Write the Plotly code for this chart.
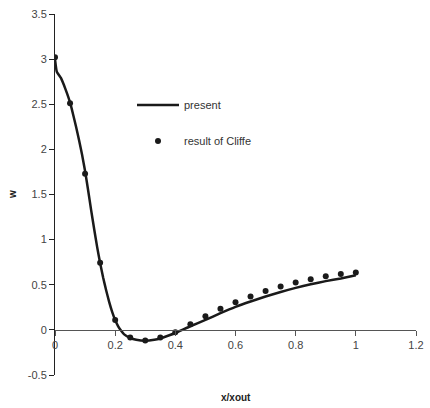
import plotly.graph_objects as go

# Cliffe's reference results
cliffe_x = [0.0, 0.05, 0.1, 0.15, 0.2, 0.25, 0.3, 0.35, 0.4, 0.45, 0.5,
            0.55, 0.6, 0.65, 0.7, 0.75, 0.8, 0.85, 0.9, 0.95, 1.0]
cliffe_w = [3.02, 2.51, 1.73, 0.745, 0.11, -0.085, -0.118, -0.085, -0.026, 0.063, 0.15,
            0.233, 0.307, 0.37, 0.43, 0.48, 0.525, 0.56, 0.595, 0.62, 0.635]

# present computation
present_x = [0.0, 0.006, 0.02, 0.03, 0.04, 0.05, 0.06, 0.07, 0.08, 0.09, 0.1,
             0.11, 0.12, 0.13, 0.14, 0.15, 0.16, 0.17, 0.18, 0.19, 0.2,
             0.21, 0.22, 0.23, 0.25, 0.27, 0.3, 0.33, 0.35, 0.38, 0.4,
             0.45, 0.5, 0.55, 0.6, 0.65, 0.7, 0.75, 0.8, 0.85, 0.9, 0.95, 1.0]
present_w = [3.0, 2.86, 2.79, 2.71, 2.62, 2.52, 2.39, 2.25, 2.1, 1.94, 1.76,
             1.55, 1.33, 1.12, 0.92, 0.74, 0.58, 0.44, 0.31, 0.2, 0.11,
             0.04, -0.01, -0.05, -0.09, -0.11, -0.12, -0.11, -0.095, -0.06, -0.035,
             0.04, 0.11, 0.185, 0.255, 0.315, 0.37, 0.42, 0.465, 0.505, 0.54, 0.57, 0.605]

x_ticks = [0, 0.2, 0.4, 0.6, 0.8, 1, 1.2]
x_labels = ["0", "0.2", "0.4", "0.6", "0.8", "1", "1.2"]
y_ticks = [-0.5, 0, 0.5, 1, 1.5, 2, 2.5, 3, 3.5]
y_labels = ["-0.5", "0", "0.5", "1", "1.5", "2", "2.5", "3", "3.5"]

font_family = "Liberation Sans, Arial, sans-serif"
ink = "#1a1a1a"

# plot area in pixels
L, R, T, B = 55, 14, 14, 33
W, H = 430, 408
pw, ph = W - L - R, H - T - B

fig = go.Figure()
fig.add_trace(go.Scatter(
    x=present_x, y=present_w, mode="lines", name="present",
    line=dict(color=ink, width=2.5, shape="spline", smoothing=0.4),
    legendgroup="a",
))
fig.add_trace(go.Scatter(
    x=cliffe_x, y=cliffe_w, mode="markers", name="result of Cliffe",
    marker=dict(color=ink, size=6),
    legendgroup="b",
))

y_min, y_max = -0.5, 3.5
fig.update_layout(
    width=W, height=H,
    margin=dict(l=L, r=R, t=T, b=B, autoexpand=False),
    paper_bgcolor="white", plot_bgcolor="white",
    font=dict(family=font_family, size=11, color="#333"),
    showlegend=True,
    legend=dict(
        x=(132 - L) / pw, y=(H - B - 123) / ph, xanchor="left", yanchor="middle",
        bgcolor="rgba(0,0,0,0)", font=dict(size=11, color="#333"),
        tracegroupgap=17, itemwidth=42,
    ),
    xaxis=dict(
        range=[0, 1.2], tickvals=x_ticks, ticktext=x_labels,
        showgrid=False, zeroline=False,
        showline=True, linecolor="#555", linewidth=1,
        ticks="outside", ticklen=5, tickcolor="#555",
        anchor="free", position=(0 - y_min) / (y_max - y_min),
        tickfont=dict(size=11, color="#444"),
    ),
    yaxis=dict(
        range=[y_min, y_max], tickvals=y_ticks, ticktext=y_labels,
        showgrid=False, zeroline=False,
        showline=True, linecolor="#222", linewidth=1,
        ticks="outside", ticklen=5, tickcolor="#222",
        tickfont=dict(size=11, color="#444"),
    ),
    annotations=[
        dict(text="<b>x/xout</b>", xref="paper", yref="paper",
             x=(236 - L) / pw, y=-(397 - (H - B)) / ph,
             xanchor="center", yanchor="middle", showarrow=False,
             font=dict(size=10, color="#222")),
        dict(text="<b>w</b>", xref="paper", yref="paper",
             x=(12 - L) / pw, y=(H - B - 195) / ph,
             xanchor="center", yanchor="middle", showarrow=False, textangle=-90,
             font=dict(size=10, color="#222")),
    ],
)

fig.write_html("out.html")
